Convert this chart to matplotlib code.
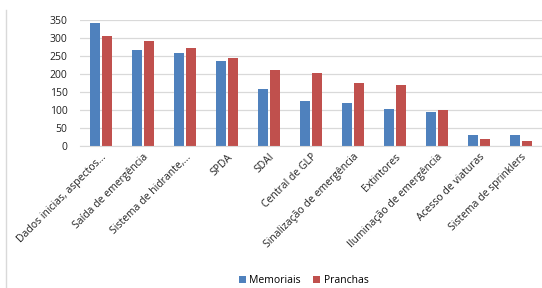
import matplotlib
matplotlib.use("Agg")
import matplotlib.pyplot as plt
import numpy as np
from matplotlib.lines import Line2D

categories = ["Dados inicias, aspectos...", "Saída de emergência", "Sistema de hidrante,...",
              "SPDA", "SDAI", "Central de GLP", "Sinalização de emergência", "Extintores",
              "Iluminação de emergência", "Acesso de viaturas", "Sistema de sprinklers"]
memoriais = [342, 267, 260, 238, 158, 125, 121, 103, 94, 31, 31]
pranchas = [307, 292, 272, 245, 211, 202, 175, 171, 99, 19, 15]
yticks = [0, 50, 100, 150, 200, 250, 300, 350]

plt.rcParams['font.family'] = ['Open Sans', 'DejaVu Sans']

fig = plt.figure(figsize=(5.42, 2.88), dpi=100)
ax = fig.add_axes([80/542, 1-146/288, 1-80/542, (146-20.3)/288])

x = np.arange(len(categories))
w = 0.24
ax.bar(x - 0.15, memoriais, w, color="#4F81BD", label="Memoriais")
ax.bar(x + 0.15, pranchas, w, color="#C0504D", label="Pranchas")

ax.set_xlim(-0.5, len(categories) - 0.5)
ax.set_ylim(0, 350)
ax.set_yticks(yticks)
ax.set_yticklabels([str(v) for v in yticks], fontsize=7.5, color="#222222")
ax.yaxis.grid(True, color="#D9D9D9", linewidth=0.9)
ax.set_axisbelow(True)
for s in ["top", "right", "left"]:
    ax.spines[s].set_visible(False)
ax.spines["bottom"].set_color("#D9D9D9")
ax.tick_params(axis="both", length=0)
ax.tick_params(axis="y", pad=9)
ax.set_xticks(x)
ax.set_xticklabels(categories, rotation=45, ha="right", va="top", rotation_mode="anchor",
                   fontsize=7.5, color="#222222")
ax.tick_params(axis="x", pad=4)

fig.legend(loc="center", bbox_to_anchor=(0.56, 0.026), ncol=2, frameon=False,
           fontsize=7.5, handlelength=0.7, handleheight=0.7, handletextpad=0.3,
           columnspacing=1.2)
fig.add_artist(Line2D([6/542, 6/542], [0, 1-10/288], transform=fig.transFigure,
                      color="#D9D9D9", linewidth=1))

fig.savefig("out.png", dpi=100)
